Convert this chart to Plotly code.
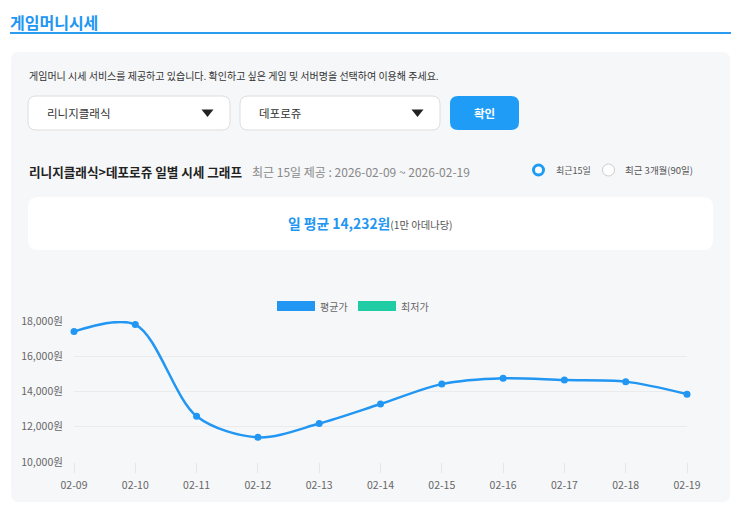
import plotly.graph_objects as go

# ---- data ----
dates = ["02-09", "02-10", "02-11", "02-12", "02-13", "02-14", "02-15", "02-16", "02-17", "02-18", "02-19"]
avg_price = [17400, 17800, 12600, 11400, 12180, 13290, 14420, 14750, 14650, 14560, 13850]
y_ticks = [10000, 12000, 14000, 16000, 18000]
y_tick_labels = ["10,000원", "12,000원", "14,000원", "16,000원", "18,000원"]
legend_names = ["평균가", "최저가"]

FONT = "Noto Sans CJK KR"
OFF = 8  # default page body margin
WIN_W, WIN_H = 743, 513
W_FIG, H_FIG = WIN_W - 2 * OFF, WIN_H - 2 * OFF
L, R, T, B = 74, 687, 321, 462  # plot area in window pixels
PW, PH = R - L, B - T


def px(x):
    return (x - L) / PW


def py(y):
    return (B - y) / PH


def rrect(x0, y0, x1, y1, r):
    p = [
        f"M {px(x0 + r)} {py(y0)}",
        f"L {px(x1 - r)} {py(y0)}",
        f"Q {px(x1)} {py(y0)} {px(x1)} {py(y0 + r)}",
        f"L {px(x1)} {py(y1 - r)}",
        f"Q {px(x1)} {py(y1)} {px(x1 - r)} {py(y1)}",
        f"L {px(x0 + r)} {py(y1)}",
        f"Q {px(x0)} {py(y1)} {px(x0)} {py(y1 - r)}",
        f"L {px(x0)} {py(y0 + r)}",
        f"Q {px(x0)} {py(y0)} {px(x0 + r)} {py(y0)}",
        "Z",
    ]
    return " ".join(p)


shapes = []
annotations = []


def add_rrect(x0, y0, x1, y1, r, fill, line_color=None, line_width=0):
    shapes.append(dict(type="path", xref="paper", yref="paper", path=rrect(x0, y0, x1, y1, r),
                       fillcolor=fill, line=dict(color=line_color or fill, width=line_width),
                       layer="below"))


def add_text(x, y, text, size, color, anchor="left", bold=False, yanchor="middle"):
    annotations.append(dict(xref="paper", yref="paper", x=px(x), y=py(y), text=f"<b>{text}</b>" if bold else text,
                            showarrow=False, xanchor=anchor, yanchor=yanchor, borderpad=0,
                            font=dict(family=FONT, size=size, color=color)))


def add_tri(cx, cy):
    shapes.append(dict(type="path", xref="paper", yref="paper",
                       path=f"M {px(cx-6)} {py(cy-3.5)} L {px(cx+6)} {py(cy-3.5)} L {px(cx)} {py(cy+4)} Z",
                       fillcolor="#222222", line=dict(width=0), layer="above"))


def add_circle(cx, cy, r, line_color, width, fill="white"):
    shapes.append(dict(type="circle", xref="paper", yref="paper",
                       x0=px(cx - r), x1=px(cx + r), y0=py(cy + r), y1=py(cy - r),
                       line=dict(color=line_color, width=width), fillcolor=fill, layer="above"))


# header
add_text(9, 8.5, "게임머니시세", 16, "#2196f3", bold=True, yanchor="top")
shapes.append(dict(type="line", xref="paper", yref="paper", x0=px(10), x1=px(731), y0=py(33), y1=py(33),
                   line=dict(color="#2c9cf0", width=2)))

# panel
add_rrect(11, 52, 730, 502, 8, "#f6f7f9")
add_text(28, 75, "게임머니 시세 서비스를 제공하고 있습니다. 확인하고 싶은 게임 및 서버명을 선택하여 이용해 주세요.", 10, "#333333")

# dropdowns & button
add_rrect(28, 96, 230, 130, 8, "#ffffff", "#dddddd", 1)
add_rrect(240, 96, 440, 130, 8, "#ffffff", "#dddddd", 1)
add_rrect(450, 96, 519, 130, 8, "#1e9cf6")
add_text(46, 113, "리니지클래식", 11.5, "#333333")
add_text(258, 113, "데포로쥬", 11.5, "#333333")
add_tri(207.5, 113)
add_tri(417.5, 113)
add_text(484.5, 113, "확인", 11.5, "#ffffff", anchor="center", bold=True)

# chart title row
add_text(28, 171, "리니지클래식>데포로쥬 일별 시세 그래프", 12.6, "#222222", bold=True)
add_text(251, 171, "최근 15일 제공 : 2026-02-09 ~ 2026-02-19", 12, "#888888")
add_circle(538.5, 170, 5, "#1e9cf6", 3)
add_text(555, 170, "최근15일", 9, "#555555")
add_circle(608.5, 170, 6, "#cccccc", 1)
add_text(624, 170, "최근 3개월(90일)", 9.5, "#555555")

# average box
add_rrect(28, 197, 713, 250, 10, "#ffffff")
annotations.append(dict(xref="paper", yref="paper", x=px(370), y=py(223), showarrow=False,
                        xanchor="center", yanchor="middle", borderpad=0,
                        text="<b>일 평균 14,232원</b><span style='font-size:10.3px;color:#555555'>(1만 아데나당)</span>",
                        font=dict(family=FONT, size=13.8, color="#2196f3")))

# legend (manual)
legend_colors = ["#2196f3", "#1fcca3"]
legend_x = [277, 358]
for name, col, lx in zip(legend_names, legend_colors, legend_x):
    shapes.append(dict(type="rect", xref="paper", yref="paper", x0=px(lx), x1=px(lx + 38),
                       y0=py(311), y1=py(301), fillcolor=col, line=dict(width=0)))
    add_text(lx + 42, 306, name, 10, "#666666")

fig = go.Figure()
fig.add_trace(go.Scatter(
    x=dates, y=avg_price, mode="lines+markers", name=legend_names[0],
    line=dict(color="#2196f3", width=2.5, shape="spline", smoothing=0.9),
    marker=dict(color="#2196f3", size=7),
    cliponaxis=False, showlegend=False,
))

fig.update_layout(
    width=W_FIG, height=H_FIG,
    margin=dict(l=L - OFF, r=(WIN_W - OFF) - R, t=T - OFF, b=(WIN_H - OFF) - B, pad=0),
    paper_bgcolor="#ffffff", plot_bgcolor="rgba(0,0,0,0)",
    font=dict(family=FONT, size=10, color="#666666"),
    shapes=shapes, annotations=annotations, showlegend=False,
    xaxis=dict(type="category", range=[0, len(dates) - 1], showgrid=False, zeroline=False,
               showline=False, ticks="outside", ticklen=10, tickcolor="#e6e6e6", tickwidth=1,
               tickfont=dict(family=FONT, size=10.5, color="#666666"), ticklabelstandoff=3),
    yaxis=dict(range=[10000, 18000], tickvals=y_ticks, ticktext=y_tick_labels, showgrid=True,
               gridcolor="#ebebeb", gridwidth=1, zeroline=False, showline=False,
               ticks="outside", ticklen=8, tickcolor="rgba(0,0,0,0)",
               tickfont=dict(family=FONT, size=10.5, color="#666666")),
)

fig.write_html("out.html")
